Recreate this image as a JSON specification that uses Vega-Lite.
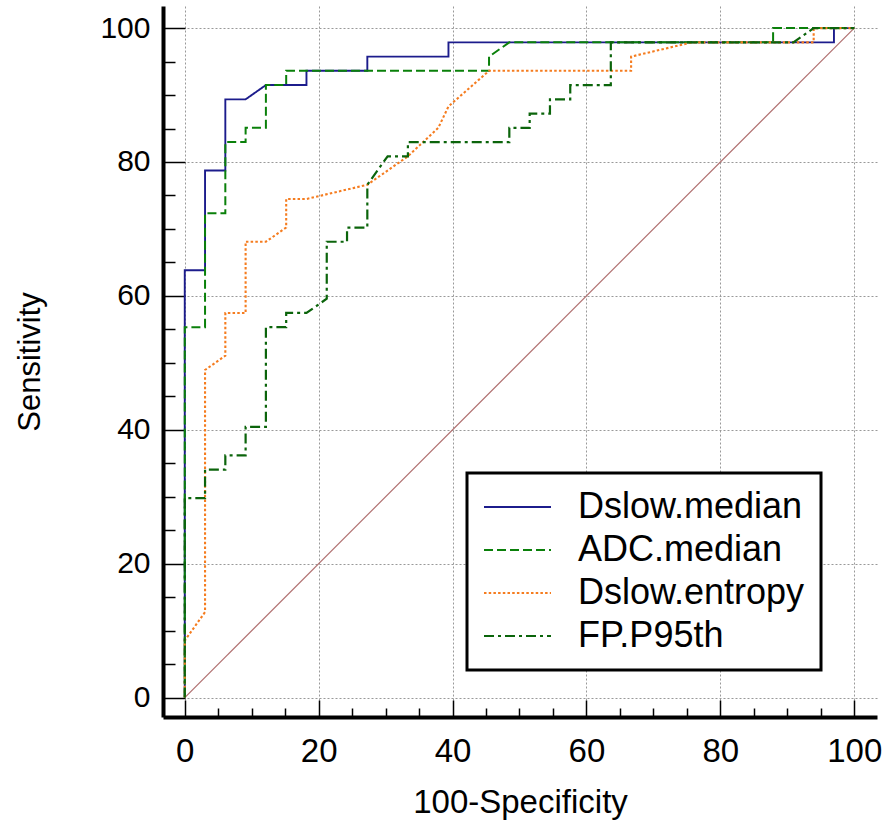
{
  "$schema": "https://vega.github.io/schema/vega-lite/v6.json",
  "width": 714,
  "height": 711,
  "autosize": {"type": "none"},
  "padding": {"left": 163, "top": 6, "right": 9, "bottom": 120},
  "background": "white",
  "datasets": {
    "diag": [
      {"fpr": 0, "tpr": 0},
      {"fpr": 100, "tpr": 100}
    ],
    "roc": [
      {"series": "Dslow.median", "i": 0, "fpr": 0, "tpr": 0},
      {"series": "Dslow.median", "i": 1, "fpr": 0, "tpr": 63.83},
      {"series": "Dslow.median", "i": 2, "fpr": 3.03, "tpr": 63.83},
      {"series": "Dslow.median", "i": 3, "fpr": 3.03, "tpr": 78.72},
      {"series": "Dslow.median", "i": 4, "fpr": 6.06, "tpr": 78.72},
      {"series": "Dslow.median", "i": 5, "fpr": 6.06, "tpr": 89.36},
      {"series": "Dslow.median", "i": 6, "fpr": 9.09, "tpr": 89.36},
      {"series": "Dslow.median", "i": 7, "fpr": 12.12, "tpr": 91.49},
      {"series": "Dslow.median", "i": 8, "fpr": 18.18, "tpr": 91.49},
      {"series": "Dslow.median", "i": 9, "fpr": 18.18, "tpr": 93.62},
      {"series": "Dslow.median", "i": 10, "fpr": 27.27, "tpr": 93.62},
      {"series": "Dslow.median", "i": 11, "fpr": 27.27, "tpr": 95.74},
      {"series": "Dslow.median", "i": 12, "fpr": 39.39, "tpr": 95.74},
      {"series": "Dslow.median", "i": 13, "fpr": 39.39, "tpr": 97.87},
      {"series": "Dslow.median", "i": 14, "fpr": 96.97, "tpr": 97.87},
      {"series": "Dslow.median", "i": 15, "fpr": 96.97, "tpr": 100},
      {"series": "Dslow.median", "i": 16, "fpr": 100, "tpr": 100},

      {"series": "ADC.median", "i": 0, "fpr": 0, "tpr": 0},
      {"series": "ADC.median", "i": 1, "fpr": 0, "tpr": 55.32},
      {"series": "ADC.median", "i": 2, "fpr": 3.03, "tpr": 55.32},
      {"series": "ADC.median", "i": 3, "fpr": 3.03, "tpr": 72.34},
      {"series": "ADC.median", "i": 4, "fpr": 6.06, "tpr": 72.34},
      {"series": "ADC.median", "i": 5, "fpr": 6.06, "tpr": 82.98},
      {"series": "ADC.median", "i": 6, "fpr": 9.09, "tpr": 82.98},
      {"series": "ADC.median", "i": 7, "fpr": 9.09, "tpr": 85.11},
      {"series": "ADC.median", "i": 8, "fpr": 12.12, "tpr": 85.11},
      {"series": "ADC.median", "i": 9, "fpr": 12.12, "tpr": 91.49},
      {"series": "ADC.median", "i": 10, "fpr": 15.15, "tpr": 91.49},
      {"series": "ADC.median", "i": 11, "fpr": 15.15, "tpr": 93.62},
      {"series": "ADC.median", "i": 12, "fpr": 45.45, "tpr": 93.62},
      {"series": "ADC.median", "i": 13, "fpr": 45.45, "tpr": 95.74},
      {"series": "ADC.median", "i": 14, "fpr": 48.48, "tpr": 97.87},
      {"series": "ADC.median", "i": 15, "fpr": 87.88, "tpr": 97.87},
      {"series": "ADC.median", "i": 16, "fpr": 87.88, "tpr": 100},
      {"series": "ADC.median", "i": 17, "fpr": 100, "tpr": 100},

      {"series": "Dslow.entropy", "i": 0, "fpr": 0, "tpr": 0},
      {"series": "Dslow.entropy", "i": 1, "fpr": 0, "tpr": 8.51},
      {"series": "Dslow.entropy", "i": 2, "fpr": 3.03, "tpr": 12.77},
      {"series": "Dslow.entropy", "i": 3, "fpr": 3.03, "tpr": 48.94},
      {"series": "Dslow.entropy", "i": 4, "fpr": 6.06, "tpr": 51.06},
      {"series": "Dslow.entropy", "i": 5, "fpr": 6.06, "tpr": 57.45},
      {"series": "Dslow.entropy", "i": 6, "fpr": 9.09, "tpr": 57.45},
      {"series": "Dslow.entropy", "i": 7, "fpr": 9.09, "tpr": 68.09},
      {"series": "Dslow.entropy", "i": 8, "fpr": 12.12, "tpr": 68.09},
      {"series": "Dslow.entropy", "i": 9, "fpr": 15.15, "tpr": 70.21},
      {"series": "Dslow.entropy", "i": 10, "fpr": 15.15, "tpr": 74.47},
      {"series": "Dslow.entropy", "i": 11, "fpr": 18.18, "tpr": 74.47},
      {"series": "Dslow.entropy", "i": 12, "fpr": 27.27, "tpr": 76.6},
      {"series": "Dslow.entropy", "i": 13, "fpr": 33.33, "tpr": 80.85},
      {"series": "Dslow.entropy", "i": 14, "fpr": 37.88, "tpr": 85.11},
      {"series": "Dslow.entropy", "i": 15, "fpr": 39.39, "tpr": 88.3},
      {"series": "Dslow.entropy", "i": 16, "fpr": 45.45, "tpr": 93.62},
      {"series": "Dslow.entropy", "i": 17, "fpr": 66.67, "tpr": 93.62},
      {"series": "Dslow.entropy", "i": 18, "fpr": 66.67, "tpr": 95.74},
      {"series": "Dslow.entropy", "i": 19, "fpr": 75.76, "tpr": 97.87},
      {"series": "Dslow.entropy", "i": 20, "fpr": 93.94, "tpr": 97.87},
      {"series": "Dslow.entropy", "i": 21, "fpr": 93.94, "tpr": 100},
      {"series": "Dslow.entropy", "i": 22, "fpr": 100, "tpr": 100},

      {"series": "FP.P95th", "i": 0, "fpr": 0, "tpr": 0},
      {"series": "FP.P95th", "i": 1, "fpr": 0, "tpr": 29.79},
      {"series": "FP.P95th", "i": 2, "fpr": 3.03, "tpr": 29.79},
      {"series": "FP.P95th", "i": 3, "fpr": 3.03, "tpr": 34.04},
      {"series": "FP.P95th", "i": 4, "fpr": 6.06, "tpr": 34.04},
      {"series": "FP.P95th", "i": 5, "fpr": 6.06, "tpr": 36.17},
      {"series": "FP.P95th", "i": 6, "fpr": 9.09, "tpr": 36.17},
      {"series": "FP.P95th", "i": 7, "fpr": 9.09, "tpr": 40.43},
      {"series": "FP.P95th", "i": 8, "fpr": 12.12, "tpr": 40.43},
      {"series": "FP.P95th", "i": 9, "fpr": 12.12, "tpr": 55.32},
      {"series": "FP.P95th", "i": 10, "fpr": 15.15, "tpr": 55.32},
      {"series": "FP.P95th", "i": 11, "fpr": 15.15, "tpr": 57.45},
      {"series": "FP.P95th", "i": 12, "fpr": 18.18, "tpr": 57.45},
      {"series": "FP.P95th", "i": 13, "fpr": 21.21, "tpr": 59.57},
      {"series": "FP.P95th", "i": 14, "fpr": 21.21, "tpr": 68.09},
      {"series": "FP.P95th", "i": 15, "fpr": 24.24, "tpr": 68.09},
      {"series": "FP.P95th", "i": 16, "fpr": 24.24, "tpr": 70.21},
      {"series": "FP.P95th", "i": 17, "fpr": 27.27, "tpr": 70.21},
      {"series": "FP.P95th", "i": 18, "fpr": 27.27, "tpr": 76.6},
      {"series": "FP.P95th", "i": 19, "fpr": 30.3, "tpr": 80.85},
      {"series": "FP.P95th", "i": 20, "fpr": 33.33, "tpr": 80.85},
      {"series": "FP.P95th", "i": 21, "fpr": 33.33, "tpr": 82.98},
      {"series": "FP.P95th", "i": 22, "fpr": 48.48, "tpr": 82.98},
      {"series": "FP.P95th", "i": 23, "fpr": 48.48, "tpr": 85.11},
      {"series": "FP.P95th", "i": 24, "fpr": 51.52, "tpr": 85.11},
      {"series": "FP.P95th", "i": 25, "fpr": 51.52, "tpr": 87.23},
      {"series": "FP.P95th", "i": 26, "fpr": 54.55, "tpr": 87.23},
      {"series": "FP.P95th", "i": 27, "fpr": 54.55, "tpr": 89.36},
      {"series": "FP.P95th", "i": 28, "fpr": 57.58, "tpr": 89.36},
      {"series": "FP.P95th", "i": 29, "fpr": 57.58, "tpr": 91.49},
      {"series": "FP.P95th", "i": 30, "fpr": 63.64, "tpr": 91.49},
      {"series": "FP.P95th", "i": 31, "fpr": 63.64, "tpr": 97.87},
      {"series": "FP.P95th", "i": 32, "fpr": 90.91, "tpr": 97.87},
      {"series": "FP.P95th", "i": 33, "fpr": 93.94, "tpr": 100},
      {"series": "FP.P95th", "i": 34, "fpr": 100, "tpr": 100}
    ]
  },
  "layer": [
    {
      "data": {"name": "diag"},
      "mark": {"type": "line", "color": "#b07070", "strokeWidth": 1.2},
      "encoding": {
        "x": {
          "field": "fpr",
          "type": "quantitative",
          "scale": {"domain": [-3.25, 103.4], "nice": false, "zero": false},
          "axis": {
            "orient": "bottom",
            "title": "100-Specificity",
            "values": [0, 20, 40, 60, 80, 100],
            "ticks": false,
            "grid": true,
            "gridColor": "#999999",
            "gridDash": [2, 2],
            "domainColor": "black",
            "domainWidth": 4,
            "labelFontSize": 33,
            "labelPadding": 18,
            "labelFlush": false,
            "titleFontSize": 33,
            "titlePadding": 18
          }
        },
        "y": {
          "field": "tpr",
          "type": "quantitative",
          "scale": {"domain": [-2.9, 103.3], "nice": false, "zero": false},
          "axis": {
            "orient": "left",
            "title": "Sensitivity",
            "values": [0, 20, 40, 60, 80, 100],
            "ticks": false,
            "grid": true,
            "gridColor": "#999999",
            "gridDash": [2, 2],
            "domainColor": "black",
            "domainWidth": 4,
            "labelFontSize": 30,
            "labelPadding": 13,
            "labelFlush": false,
            "titleFontSize": 31,
            "titlePadding": 53
          }
        }
      }
    },
    {
      "data": {"name": "roc"},
      "mark": {"type": "line"},
      "encoding": {
        "x": {
          "field": "fpr",
          "type": "quantitative",
          "axis": {
            "orient": "bottom",
            "title": null,
            "values": [0, 5, 10, 15, 20, 25, 30, 35, 40, 45, 50, 55, 60, 65, 70, 75, 80, 85, 90, 95, 100],
            "labels": false,
            "domain": false,
            "grid": false,
            "tickColor": "black",
            "tickWidth": 1.5,
            "tickSize": {"condition": {"test": "datum.value % 20 === 0", "value": -17}, "value": -9}
          }
        },
        "y": {
          "field": "tpr",
          "type": "quantitative",
          "axis": {
            "orient": "left",
            "title": null,
            "values": [0, 5, 10, 15, 20, 25, 30, 35, 40, 45, 50, 55, 60, 65, 70, 75, 80, 85, 90, 95, 100],
            "labels": false,
            "domain": false,
            "grid": false,
            "tickColor": "black",
            "tickWidth": 1.5,
            "tickSize": {"condition": {"test": "datum.value % 20 === 0", "value": -22}, "value": -12}
          }
        },
        "order": {"field": "i", "type": "quantitative"},
        "color": {
          "field": "series",
          "type": "nominal",
          "title": null,
          "scale": {
            "domain": ["Dslow.median", "ADC.median", "Dslow.entropy", "FP.P95th"],
            "range": ["#1c1c8c", "#0a800a", "#f57c1f", "#0b640b"]
          },
          "legend": {
            "orient": "none",
            "legendX": 304,
            "legendY": 467,
            "symbolType": "M-3.4,0L10,0"
          }
        },
        "strokeDash": {
          "field": "series",
          "type": "nominal",
          "title": null,
          "scale": {
            "domain": ["Dslow.median", "ADC.median", "Dslow.entropy", "FP.P95th"],
            "range": [[1, 0], [9, 4], [2.5, 2.2], [10, 4, 3, 4]]
          }
        },
        "strokeWidth": {
          "field": "series",
          "type": "nominal",
          "legend": null,
          "scale": {
            "domain": ["Dslow.median", "ADC.median", "Dslow.entropy", "FP.P95th"],
            "range": [1.9, 2.2, 3, 2.2]
          }
        }
      }
    }
  ],
  "resolve": {"axis": {"x": "independent", "y": "independent"}},
  "config": {
    "font": "Liberation Sans",
    "view": {"stroke": null},
    "axis": {"labelColor": "black", "titleColor": "black", "titleFontWeight": "normal"},
    "legend": {
      "orient": "none",
      "legendX": 304,
      "legendY": 467,
      "fillColor": "white",
      "strokeColor": "black",
      "strokeWidth": 3,
      "padding": 16,
      "symbolType": "M-3.4,0L10,0",
      "symbolSize": 100,
      "symbolStrokeWidth": 1.5,
      "labelFontSize": 36,
      "labelColor": "black",
      "labelOffset": 59,
      "labelLimit": 400,
      "rowPadding": 7
    }
  }
}
